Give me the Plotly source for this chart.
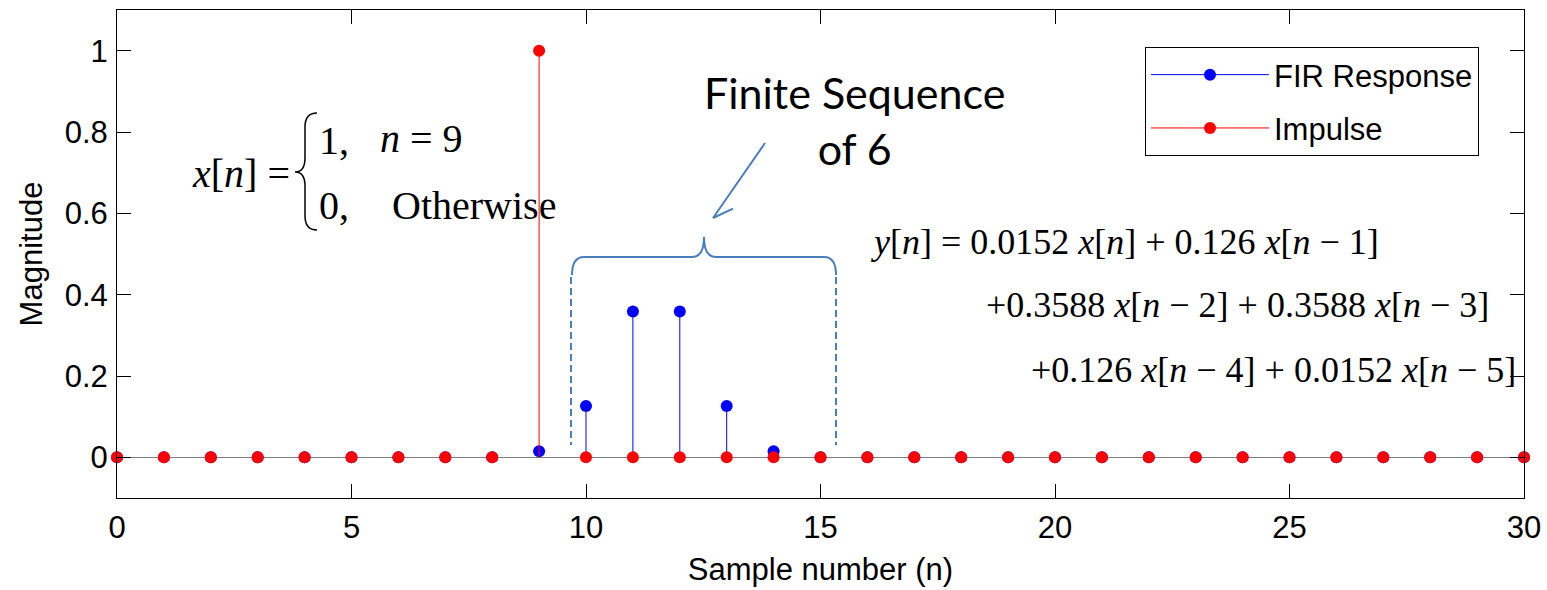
import plotly.graph_objects as go

# Sample index and the two sequences (stem plots)
n = [0, 1, 2, 3, 4, 5, 6, 7, 8, 9, 10, 11, 12, 13, 14, 15,
     16, 17, 18, 19, 20, 21, 22, 23, 24, 25, 26, 27, 28, 29, 30]
fir_response = [0, 0, 0, 0, 0, 0, 0, 0, 0, 0.0152, 0.126, 0.3588, 0.3588, 0.126, 0.0152, 0,
                0, 0, 0, 0, 0, 0, 0, 0, 0, 0, 0, 0, 0, 0, 0]
impulse = [0, 0, 0, 0, 0, 0, 0, 0, 0, 1, 0, 0, 0, 0, 0, 0,
           0, 0, 0, 0, 0, 0, 0, 0, 0, 0, 0, 0, 0, 0, 0]

x_ticks = [0, 5, 10, 15, 20, 25, 30]
y_ticks = [0, 0.2, 0.4, 0.6, 0.8, 1]
y_tick_text = ["0", "0.2", "0.4", "0.6", "0.8", "1"]

X_RANGE = [0, 30]
Y_RANGE = [-0.1, 1.1]
W, H = 1547, 590
M_L, M_R, M_T, M_B = 117, 23, 10, 92
PW, PH = W - M_L - M_R, H - M_T - M_B

SANS = "Liberation Sans, Arial, sans-serif"
SERIF = "Liberation Serif, Times New Roman, serif"
ACCENT = "#4A7EBB"
MS = 12


def dx(px):
    """Pixel column -> x data value."""
    return X_RANGE[0] + (px - M_L) * (X_RANGE[1] - X_RANGE[0]) / PW


def dy(py):
    """Pixel row -> y data value."""
    return Y_RANGE[1] - (py - M_T) * (Y_RANGE[1] - Y_RANGE[0]) / PH


def path(points, cmds):
    out = []
    for c, pts in zip(cmds, points):
        out.append(c + " ".join(f"{dx(p[0]):.4f},{dy(p[1]):.5f}" for p in pts))
    return " ".join(out)


def stem_traces(values, color, name):
    xs, ys = [], []
    for k, v in zip(n, values):
        xs += [k, k, None]
        ys += [0, v, None]
    stems = go.Scatter(x=xs, y=ys, mode="lines", line=dict(color=color, width=1),
                       legendgroup=name, showlegend=False, hoverinfo="skip")
    heads = go.Scatter(x=n, y=values, mode="markers", name=name,
                       marker=dict(color=color, size=MS, opacity=1, line=dict(width=0)),
                       cliponaxis=False, legendgroup=name, showlegend=False)
    key = go.Scatter(x=[None], y=[None], mode="lines+markers", name=name,
                     line=dict(color=color, width=1),
                     marker=dict(color=color, size=MS, opacity=1, line=dict(width=0)),
                     legendgroup=name, showlegend=True)
    return [stems, heads, key]


fig = go.Figure()
for tr in stem_traces(fir_response, "#0000FF", "FIR Response"):
    fig.add_trace(tr)
for tr in stem_traces(impulse, "#FF0000", "Impulse"):
    fig.add_trace(tr)

shapes = []
# Curly brace over the six output samples
brace = path(
    [[(572, 275)], [(572, 257), (584, 257)], [(692, 257)], [(704, 257), (704, 237)],
     [(704, 257), (716, 257)], [(824, 257)], [(836, 257), (836, 275)]],
    ["M", "Q", "L", "Q", "Q", "L", "Q"],
)
shapes.append(dict(type="path", path=brace, xref="x", yref="y",
                   line=dict(color=ACCENT, width=2)))
for px in (571, 836):
    shapes.append(dict(type="line", xref="x", yref="y", x0=dx(px), x1=dx(px),
                       y0=dy(277), y1=dy(445),
                       line=dict(color=ACCENT, width=2, dash="7px,4px")))
# Arrow pointing at the brace
arrow = path([[(765, 143)], [(713, 218)], [(733, 208.6)], [(713, 218), (715, 196)]],
             ["M", "L", "M", "L"])
shapes.append(dict(type="path", path=arrow, xref="x", yref="y",
                   line=dict(color=ACCENT, width=2)))
# Left brace of the piecewise definition
pw_brace = path(
    [[(317, 113)], [(305, 113), (305, 127)], [(305, 158)], [(305, 172), (295, 172)],
     [(305, 172), (305, 186)], [(305, 216)], [(305, 230), (317, 230)]],
    ["M", "Q", "L", "Q", "Q", "L", "Q"],
)
shapes.append(dict(type="path", path=pw_brace, xref="x", yref="y",
                   line=dict(color="black", width=1.5)))


def note(text, px, py, size, family=SERIF, anchor="left"):
    return dict(text=text, x=dx(px), y=dy(py), xref="x", yref="y",
                xanchor=anchor, yanchor="middle", showarrow=False,
                font=dict(family=family, size=size, color="black"))


annotations = [
    note("<i>x</i>[<i>n</i>] =", 190, 173, 40),
    note("1,", 317, 140, 40),
    note("<i>n</i> = 9", 378, 138, 40),
    note("0,", 317, 205, 40),
    note("Otherwise", 390, 205, 40),
    note("Finite Sequence<br>of 6", 854, 120, 43, family="Lato, Calibri, sans-serif",
         anchor="center"),
    note("<i>y</i>[<i>n</i>] = 0.0152 <i>x</i>[<i>n</i>] + 0.126 <i>x</i>[<i>n</i> − 1]",
         1125, 242, 36, anchor="center"),
    note("+0.3588 <i>x</i>[<i>n</i> − 2] + 0.3588 <i>x</i>[<i>n</i> − 3]",
         1237, 305, 36, anchor="center"),
    note("+0.126 <i>x</i>[<i>n</i> − 4] + 0.0152 <i>x</i>[<i>n</i> − 5]",
         1273, 370, 36, anchor="center"),
]

axis_common = dict(
    showline=True, linecolor="black", linewidth=1, mirror="ticks",
    ticks="inside", ticklen=14, tickcolor="black", tickwidth=1,
    showgrid=False, automargin=False,
    tickfont=dict(family=SANS, size=31, color="black"),
)

fig.update_layout(
    width=W, height=H,
    margin=dict(l=M_L, r=M_R, t=M_T, b=M_B, autoexpand=False),
    paper_bgcolor="white", plot_bgcolor="white",
    xaxis=dict(range=X_RANGE, tickvals=x_ticks, zeroline=False,
               title=dict(text="Sample number (n)", standoff=14,
                          font=dict(family=SANS, size=31, color="black")),
               ticklabelstandoff=2, **axis_common),
    yaxis=dict(range=Y_RANGE, tickvals=y_ticks, ticktext=y_tick_text,
               zeroline=True, zerolinecolor="#7f7f7f", zerolinewidth=1,
               title=dict(text="Magnitude", standoff=12,
                          font=dict(family=SANS, size=31, color="black")),
               ticklabelstandoff=2, **axis_common),
    legend=dict(x=(1145 - M_L) / PW, y=(H - M_B - 47) / PH, xanchor="left", yanchor="top",
                bgcolor="white", bordercolor="black", borderwidth=1,
                font=dict(family=SANS, size=31, color="black"),
                itemwidth=118, tracegroupgap=10),
    shapes=shapes,
    annotations=annotations,
    showlegend=True,
)

fig.write_html("out.html")
